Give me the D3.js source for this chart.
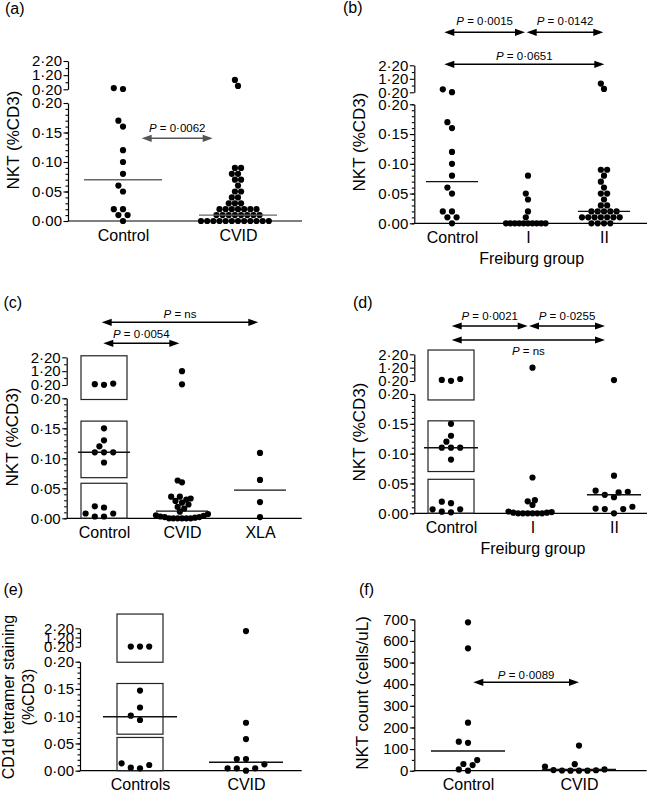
<!DOCTYPE html>
<html><head><meta charset="utf-8">
<script src="https://cdn.jsdelivr.net/npm/d3@7"></script>
<style>body{margin:0;background:#fff}</style>
</head><body>
<script>
// ---------------- DATA ----------------
const aCategories = ["Control", "CVID"];
const aControl = [0.29, 0.22, 0.17, 0.16, 0.12, 0.10, 0.08, 0.06, 0.05, 0.02, 0.02, 0.01, 0.01, 0.00];
const aCVID = [0.86, 0.44, 0.09, 0.09, 0.08, 0.08, 0.07, 0.07, 0.06, 0.05, 0.05, 0.04, 0.04, 0.03, 0.03, 0.03,
  0.02, 0.02, 0.02, 0.02, 0.02, 0.02, 0.02, 0.01, 0.01, 0.01, 0.01, 0.01, 0.01, 0.01, 0.01,
  0, 0, 0, 0, 0, 0, 0, 0, 0, 0, 0, 0];
const aMedians = [0.07, 0.01];
const aComparisons = [["Control", "CVID", "0·0062"]];

const bCategories = ["Control", "I", "II"];
const bControl = [0.42, 0.21, 0.17, 0.16, 0.12, 0.10, 0.08, 0.06, 0.05, 0.02, 0.02, 0.01, 0.01, 0.00];
const bI = [0.08, 0.05, 0.04, 0.02, 0.01, 0, 0, 0, 0, 0, 0, 0, 0, 0, 0];
const bII = [0.85, 0.45, 0.09, 0.09, 0.08, 0.07, 0.06, 0.05, 0.05, 0.04, 0.03, 0.03,
  0.02, 0.02, 0.02, 0.02, 0.02, 0.01, 0.01, 0.01, 0.01, 0.01, 0.01, 0.01, 0, 0, 0, 0];
const bMedians = [0.07, null, 0.02];
const bComparisons = [["Control", "I", "0·0015"], ["I", "II", "0·0142"], ["Control", "II", "0·0651"]];

const cCategories = ["Control", "CVID", "XLA"];
const cControl = [0.30, 0.21, 0.26, 0.15, 0.13, 0.12, 0.11, 0.11, 0.11, 0.093, 0.02, 0.018, 0.008, 0.003, 0.003, 0.008];
const cCVID = [1.2, 0.25, 0.063, 0.06, 0.036, 0.036, 0.033, 0.031, 0.029, 0.026, 0.023, 0.019, 0.016, 0.011,
  0.007, 0.005, 0.004, 0.003, 0.002, 0.002, 0.001, 0, 0, 0, 0, 0, 0];
const cXLA = [0.109, 0.064, 0.027, 0.002];
const cMedians = [0.11, 0.012, 0.047];
const cComparisons = [["Control", "XLA", "ns"], ["Control", "CVID", "0·0054"]];
const cBoxes = [[0.198, 2.31], [0.0677, 0.162], [0, 0.0584]];

const dCategories = ["Control", "I", "II"];
const dControl = [0.35, 0.21, 0.28, 0.15, 0.13, 0.12, 0.11, 0.11, 0.11, 0.09, 0.0195, 0.017, 0.0067, 0.0067, 0.0027, 0.0017];
const dI = [1.2, 0.06, 0.022, 0.02, 0.014, 0.003, 0.002, 0.001, 0.001, 0, 0, 0, 0, 0, 0];
const dII = [0.27, 0.063, 0.038, 0.036, 0.035, 0.031, 0.027, 0.011, 0.008, 0.007, 0.007, 0];
const dMedians = [0.11, null, 0.031];
const dComparisons = [["Control", "I", "0·0021"], ["I", "II", "0·0255"], ["Control", "II", "ns"]];
const dBoxes = [[0.19, 2.52], [0.07, 0.155], [0, 0.057]];

const eCategories = ["Controls", "CVID"];
const eControls = [0.21, 0.21, 0.21, 0.147, 0.116, 0.101, 0.093, 0.0136, 0.0105, 0.0055, 0.0044];
const eCVID = [1.9, 0.088, 0.058, 0.0215, 0.0215, 0.0117, 0.0044, 0.0044, 0.0044, 0];
const eMedians = [0.099, 0.0154];
const eBoxes = [[0.199, 3.75], [0.067, 0.16], [0, 0.061]];

const fCategories = ["Control", "CVID"];
const fControl = [686, 566, 222, 134, 129, 49, 31, 26, 6, 0];
const fCVID = [116, 30, 19, 6, 3, 2, 1, 0, 0, 0];
const fMedians = [91, 6];
const fComparisons = [["Control", "CVID", "0·0089"]];

const brokenLowerTicks = [0, 0.05, 0.10, 0.15, 0.20];
const brokenUpperTicks = [0.20, 1.20, 2.20];
const brokenUpperMinor = [0.7, 1.7];
const countTicks = [0, 100, 200, 300, 400, 500, 600, 700];

// ---------------- DRAW ----------------
const W = 649, H = 794;
const FONT = "'Liberation Sans', Arial, Helvetica, sans-serif";
const svg = d3.select("body").append("svg").attr("width", W).attr("height", H)
  .style("font-family", FONT);
const fmt = d => d3.format(".2f")(d).replace(".", "·");

function swarm(values, xc, yfn, step, minDist, maxHalf) {
  const pts = values.map(v => ({ v, y: yfn(v) })).sort((a, b) => b.y - a.y);
  const placed = [];
  for (const p of pts) {
    for (let k = 0; k < 200; k++) {
      const off = k === 0 ? 0 : (k % 2 === 1 ? -Math.ceil(k / 2) * step : Math.ceil(k / 2) * step);
      if (placed.every(q => Math.hypot(q.off - off, q.y - p.y) >= minDist)) { p.off = off; placed.push(p); break; }
    }
  }
  const m = d3.max(placed, p => Math.abs(p.off)) || 0;
  const f = m > maxHalf ? maxHalf / m : 1;
  placed.forEach(p => p.x = xc + p.off * f);
  return placed;
}

function styleAxis(sel, fs) {
  sel.select(".domain").attr("stroke", "#000").attr("stroke-width", 1.2);
  sel.selectAll(".tick line").attr("stroke", "#000").attr("stroke-width", 1.1);
  sel.selectAll(".tick text").attr("fill", "#000").style("font-size", fs + "px").style("font-family", FONT);
}

function panel(L, groups, medians, comps, arrowsL, boxes) {
  const g = svg.append("g");
  const x = d3.scalePoint().domain(L.cats).range(L.catRange);
  let yv, lower, upper;
  if (L.broken) {
    lower = d3.scaleLinear().domain([0, 0.2]).range([L.y0, L.yTop]);
    upper = d3.scaleLinear().domain([0.2, 2.2]).range([L.upLow, L.upHigh]);
    yv = v => v > 0.2 ? upper(v) : lower(v);
  } else {
    lower = d3.scaleLinear().domain(L.domain).range([L.y0, L.yTop]);
    yv = lower;
  }

  // panel label
  g.append("text").attr("x", L.labelX).attr("y", L.labelY).text(L.label)
    .style("font-size", "16px").attr("fill", "#000");

  // y axes
  if (L.broken) {
    const la = g.append("g").attr("transform", `translate(${L.axisX},0)`)
      .call(d3.axisLeft(lower).tickValues(brokenLowerTicks).tickFormat(fmt).tickSize(4.5).tickSizeOuter(0).tickPadding(1.5));
    styleAxis(la, 15);
    const lm = g.append("g").attr("transform", `translate(${L.axisX},0)`)
      .call(d3.axisLeft(lower).tickValues(lower.ticks(20)).tickFormat("").tickSize(2.5).tickSizeOuter(0));
    styleAxis(lm, 15); lm.select(".domain").remove();
    const ua = g.append("g").attr("transform", `translate(${L.axisX},0)`)
      .call(d3.axisLeft(upper).tickValues(brokenUpperTicks).tickFormat(fmt).tickSize(4.5).tickSizeOuter(0).tickPadding(1.5));
    styleAxis(ua, 15);
    const um = g.append("g").attr("transform", `translate(${L.axisX},0)`)
      .call(d3.axisLeft(upper).tickValues(brokenUpperMinor).tickFormat("").tickSize(2.5).tickSizeOuter(0));
    styleAxis(um, 15); um.select(".domain").remove();
  } else {
    const la = g.append("g").attr("transform", `translate(${L.axisX},0)`)
      .call(d3.axisLeft(lower).tickValues(countTicks).tickFormat(d3.format("d")).tickSize(4.5).tickSizeOuter(0).tickPadding(1.5));
    styleAxis(la, 15);
    const lm = g.append("g").attr("transform", `translate(${L.axisX},0)`)
      .call(d3.axisLeft(lower).tickValues(lower.ticks(14)).tickFormat("").tickSize(2.5).tickSizeOuter(0));
    styleAxis(lm, 15); lm.select(".domain").remove();
  }

  // x axis
  g.append("line").attr("x1", L.axisX).attr("x2", L.xEnd).attr("y1", L.y0).attr("y2", L.y0)
    .attr("stroke", "#000").attr("stroke-width", 1.2);
  const xa = g.append("g").attr("transform", `translate(0,${L.y0})`)
    .call(d3.axisBottom(x).tickSize(0).tickPadding(8.3));
  xa.select(".domain").remove();
  styleAxis(xa, 16);
  if (L.sub) {
    g.append("text").attr("x", L.sub.x).attr("y", L.sub.y).attr("text-anchor", "middle")
      .style("font-size", "16px").text(L.sub.text);
  }

  // y titles
  L.titles.forEach(t => {
    g.append("text").attr("transform", `translate(${t.x},${t.y}) rotate(-90)`)
      .attr("text-anchor", "middle").attr("dy", "0.35em")
      .style("font-size", t.size + "px").text(t.text);
  });

  // boxes
  if (boxes) {
    g.selectAll(null).data(boxes).enter().append("rect")
      .attr("x", x(L.cats[0]) - L.boxHalf).attr("width", 2 * L.boxHalf)
      .attr("y", d => yv(d[1])).attr("height", d => yv(d[0]) - yv(d[1]))
      .attr("fill", "none").attr("stroke", "#222").attr("stroke-width", 1.2);
  }

  // points
  groups.forEach((vals, i) => {
    const pts = swarm(vals, x(L.cats[i]), yv, 4.6, 6.6, L.maxHalf);
    g.selectAll(null).data(pts).enter().append("circle")
      .attr("cx", d => d.x).attr("cy", d => d.y).attr("r", 3.1).attr("fill", "#000");
  });

  // medians
  medians.forEach((m, i) => {
    if (m === null) return;
    g.append("line").attr("x1", x(L.cats[i]) - L.medHalf).attr("x2", x(L.cats[i]) + L.medHalf)
      .attr("y1", yv(m)).attr("y2", yv(m)).attr("stroke", L.medColor).attr("stroke-width", 1.4);
  });

  // comparison arrows
  (comps || []).forEach((c, i) => {
    const a = arrowsL[i];
    const x1 = x(c[0]) + a.dx1, x2 = x(c[1]) + a.dx2, y = a.y;
    const col = L.arrowColor;
    g.append("line").attr("x1", x1 + 5).attr("x2", x2 - 5).attr("y1", y).attr("y2", y)
      .attr("stroke", col).attr("stroke-width", 1.4);
    const hl = 10, hw = 3.6;
    g.append("path").attr("d", `M${x1},${y}L${x1 + hl},${y - hw}L${x1 + hl},${y + hw}Z`).attr("fill", col);
    g.append("path").attr("d", `M${x2},${y}L${x2 - hl},${y - hw}L${x2 - hl},${y + hw}Z`).attr("fill", col);
    const t = g.append("text").attr("x", (x1 + x2) / 2 + (a.tdx || 0)).attr("y", a.ty)
      .attr("text-anchor", "middle").style("font-size", "11.5px").attr("fill", "#000");
    t.append("tspan").style("font-style", "italic").text("P");
    t.append("tspan").text(" = " + c[2]);
  });
}

panel({ broken: true, label: "(a)", labelX: 5, labelY: 13.6, axisX: 68, xEnd: 302, y0: 221, yTop: 103,
  upLow: 89.3, upHigh: 61, cats: aCategories, catRange: [123, 238],
  titles: [{ text: "NKT (%CD3)", x: 13, y: 140, size: 17 }], maxHalf: 37, medHalf: 39,
  medColor: "#666", arrowColor: "#555" },
  [aControl, aCVID], aMedians, aComparisons,
  [{ dx1: 18.7, dx2: -25.3, y: 138.3, ty: 131.5 }]);

panel({ broken: true, label: "(b)", labelX: 343, labelY: 13.3, axisX: 414.3, xEnd: 647, y0: 223.3, yTop: 104.3,
  upLow: 92.3, upHigh: 65.3, cats: bCategories, catRange: [452, 604],
  titles: [{ text: "NKT (%CD3)", x: 359, y: 142, size: 17 }], maxHalf: 22, medHalf: 26,
  medColor: "#111", arrowColor: "#000", sub: { text: "Freiburg group", x: 531.7, y: 264 } },
  [bControl, bI, bII], bMedians, bComparisons,
  [{ dx1: -7.7, dx2: -3, y: 32.3, ty: 25 }, { dx1: -1.3, dx2: -0.7, y: 32.3, ty: 25 },
   { dx1: -7.7, dx2: 0.3, y: 64.3, ty: 60 }]);

panel({ broken: true, label: "(c)", labelX: 3.5, labelY: 308.3, axisX: 66.7, xEnd: 301.7, y0: 518.3, yTop: 398.3,
  upLow: 385, upHigh: 357.3, cats: cCategories, catRange: [104, 260],
  titles: [{ text: "NKT (%CD3)", x: 12, y: 437, size: 17 }], maxHalf: 26, medHalf: 26, boxHalf: 23,
  medColor: "#111", arrowColor: "#000" },
  [cControl, cCVID, cXLA], cMedians, cComparisons,
  [{ dx1: -2.3, dx2: -1.7, y: 322.3, ty: 317.5 }, { dx1: -0.7, dx2: -2.7, y: 343.3, ty: 337.5 }], cBoxes);

panel({ broken: true, label: "(d)", labelX: 353, labelY: 308.3, axisX: 414.3, xEnd: 647, y0: 513.3, yTop: 394,
  upLow: 381, upHigh: 354.3, cats: dCategories, catRange: [451, 614],
  titles: [{ text: "NKT (%CD3)", x: 359, y: 432, size: 17 }], maxHalf: 24, medHalf: 27, boxHalf: 23,
  medColor: "#111", arrowColor: "#000", sub: { text: "Freiburg group", x: 533, y: 554 } },
  [dControl, dI, dII], dMedians, dComparisons,
  [{ dx1: 0.7, dx2: -4.8, y: 326, ty: 320 }, { dx1: -3.5, dx2: -9, y: 326, ty: 320 },
   { dx1: 0.7, dx2: -9, y: 340, ty: 355 }], dBoxes);

panel({ broken: true, label: "(e)", labelX: 3.5, labelY: 595, axisX: 80, xEnd: 301.7, y0: 770.7, yTop: 661.7,
  upLow: 646.7, upHigh: 628.3, cats: eCategories, catRange: [140, 246],
  titles: [{ text: "CD1d tetramer staining", x: 8.3, y: 697, size: 16 }, { text: "(%CD3)", x: 28.3, y: 697, size: 16 }],
  maxHalf: 30, medHalf: 37, boxHalf: 23, medColor: "#111", arrowColor: "#000" },
  [eControls, eCVID], eMedians, [], [], eBoxes);

panel({ broken: false, domain: [0, 700], label: "(f)", labelX: 359, labelY: 595, axisX: 414.3, xEnd: 646.7,
  y0: 770.7, yTop: 619.3, cats: fCategories, catRange: [468, 579],
  titles: [{ text: "NKT count (cells/uL)", x: 361.7, y: 693, size: 17 }], maxHalf: 34, medHalf: 37,
  medColor: "#111", arrowColor: "#000" },
  [fControl, fCVID], fMedians, fComparisons,
  [{ dx1: 5.3, dx2: 0, y: 682.3, ty: 679.3 }]);
</script>
</body></html>
